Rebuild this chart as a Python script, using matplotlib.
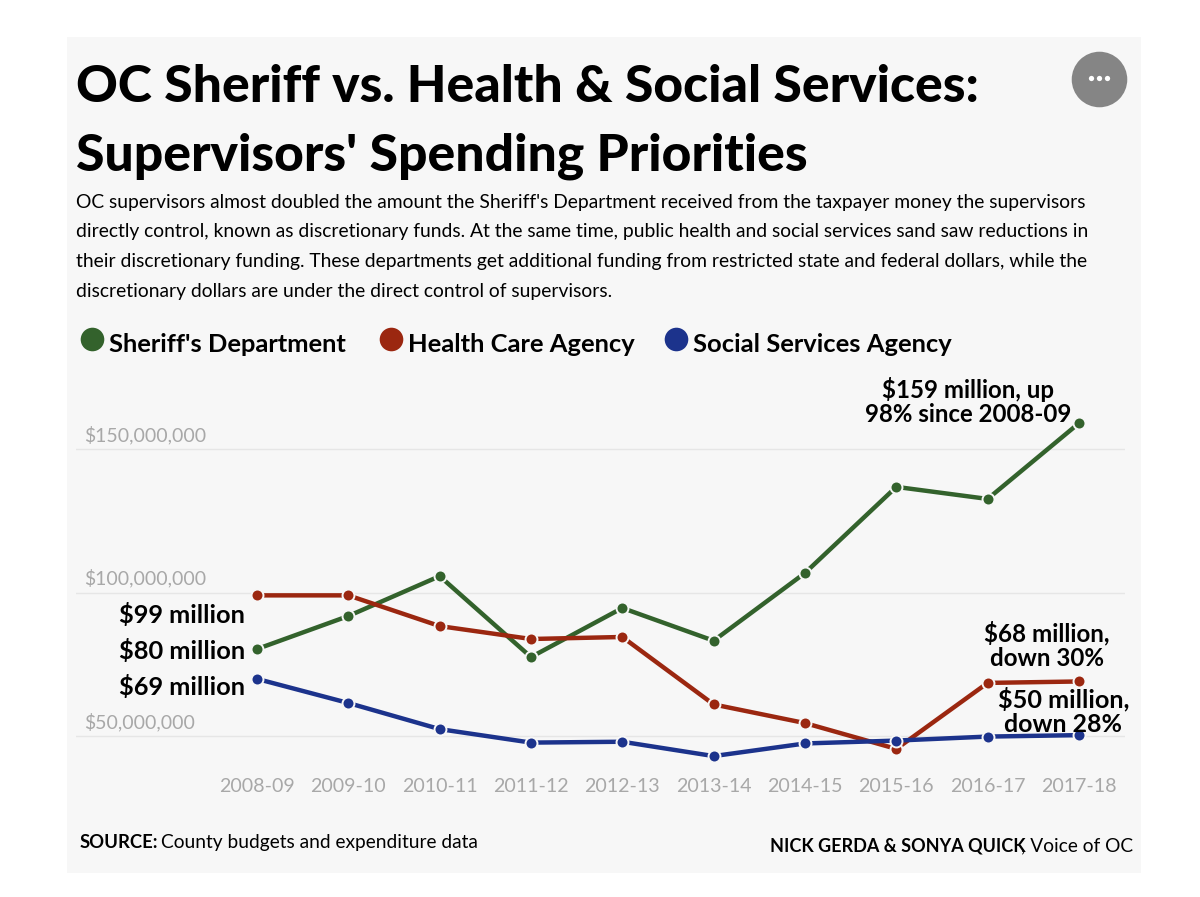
import matplotlib
matplotlib.use("Agg")
import matplotlib.pyplot as plt
from matplotlib.lines import Line2D
from matplotlib.patches import Rectangle
from matplotlib.transforms import ScaledTranslation

W, H = 1200, 897
FONT = "Lato"

years = ["2008-09", "2009-10", "2010-11", "2011-12", "2012-13",
         "2013-14", "2014-15", "2015-16", "2016-17", "2017-18"]
sheriff = [80.3, 91.8, 105.7, 77.5, 94.6, 83.2, 106.8, 136.8, 132.6, 159.0]
health = [99.0, 99.0, 88.3, 83.8, 84.5, 61.0, 54.5, 45.5, 68.5, 69.0]
social = [69.9, 61.5, 52.4, 47.7, 48.0, 43.0, 47.4, 48.4, 49.8, 50.3]
yticks = [50, 100, 150]
ylabels = ["$50,000,000", "$100,000,000", "$150,000,000"]

GREEN = "#33622c"
RED = "#9b2710"
BLUE = "#1c338c"
BG = "#f7f7f7"
GREY = "#a8a8a8"

body_lines = [
    "OC supervisors almost doubled the amount the Sheriff's Department received from the taxpayer money the supervisors",
    "directly control, known as discretionary funds. At the same time, public health and social services sand saw reductions in",
    "their discretionary funding. These departments get additional funding from restricted state and federal dollars, while the",
    "discretionary dollars are under the direct control of supervisors.",
]


def fx(x):
    return x / W


def fy(y):
    return 1 - y / H


def put(x, y, s, size, weight="normal", color="black", ha="left"):
    # x, y in reference pixels, y is the baseline
    return fig.text(fx(x), fy(y), s, fontsize=size, fontweight=weight, color=color,
                    ha=ha, va="baseline", family=FONT, parse_math=False, zorder=5)


fig = plt.figure(figsize=(W / 100, H / 100), dpi=100, facecolor="white")
fig.add_artist(Rectangle((fx(67), fy(873)), fx(1141 - 67), 836 / H, transform=fig.transFigure,
                         facecolor=BG, edgecolor="none", zorder=-1))

# axes box in pixels, 50M sits at y=736 and 150M at y=449
ax = fig.add_axes([fx(76), fy(770), fx(1125 - 76), (770 - 390) / H])
ax.patch.set_visible(False)
ax.set_xlim((76 - 257) / 91.33, (1125 - 257) / 91.33)
ax.set_ylim(50 - 34 / 2.87, 50 + 346 / 2.87)
for s in ax.spines.values():
    s.set_visible(False)

ax.set_yticks(yticks)
ax.set_yticklabels(ylabels, family=FONT, fontsize=14, color=GREY, ha="left", va="baseline", parse_math=False)
ax.tick_params(axis="y", length=0, pad=-5.8)
offset = ScaledTranslation(0, 8 / 100, fig.dpi_scale_trans)
for t in ax.get_yticklabels():
    t.set_transform(t.get_transform() + offset)
ax.grid(axis="y", color="#e6e6e6", linewidth=1)
ax.set_axisbelow(True)

ax.set_xticks(range(len(years)))
ax.set_xticklabels(years, family=FONT, fontsize=14.1, color=GREY)
ax.tick_params(axis="x", length=0, pad=5.5)

for vals, col in [(sheriff, GREEN), (health, RED), (social, BLUE)]:
    ax.plot(range(len(years)), vals, color=col, linewidth=3.2, solid_capstyle="butt",
            marker="o", markersize=8.6, markerfacecolor=col, markeredgecolor=BG,
            markeredgewidth=1.4, clip_on=False)

# title and intro
put(76, 102, "OC Sheriff vs. Health & Social Services:", 37.2, "black")
put(76, 171, "Supervisors' Spending Priorities", 37.2, "black")
for y, line in zip([208, 237, 267, 297], body_lines):
    put(76, y, line, 13.85)

# menu button
fig.add_artist(Line2D([fx(1099)], [fy(79)], marker="o", markersize=40, color="#858585",
                      markeredgecolor="none", transform=fig.transFigure))
for x in [1091, 1099, 1107]:
    fig.add_artist(Line2D([fx(x)], [fy(78)], marker="o", markersize=3.8, color="white",
                          markeredgecolor="none", transform=fig.transFigure))

# legend
for x, col, name, tx in [(92, GREEN, "Sheriff's Department", 109),
                         (391, RED, "Health Care Agency", 408),
                         (676, BLUE, "Social Services Agency", 693)]:
    fig.add_artist(Line2D([fx(x)], [fy(339)], marker="o", markersize=17, color=col,
                          markeredgecolor="none", transform=fig.transFigure))
    put(tx, 352, name, 18.35, "bold")

# callouts
put(245, 623, "$99 million", 18.3, "bold", ha="right")
put(245, 659, "$80 million", 18.3, "bold", ha="right")
put(245, 695, "$69 million", 18.3, "bold", ha="right")
put(968, 398, "$159 million, up", 17.3, "bold", ha="center")
put(968, 422, "98% since 2008-09", 17.3, "bold", ha="center")
put(1047, 641, "$68 million,", 17.4, "bold", ha="center")
put(1047, 666, "down 30%", 17.4, "bold", ha="center")
put(1064, 707, "$50 million,", 18.2, "bold", ha="center")
put(1063, 732, "down 28%", 17.9, "bold", ha="center")

# footer
put(80, 848, "SOURCE:", 13.3, "bold")
put(161, 848, "County budgets and expenditure data", 13.8)
put(1026, 851, "NICK GERDA & SONYA QUICK", 13, "bold", ha="right")
put(1133, 851, ", Voice of OC", 13.8, ha="right")

fig.savefig("out.png", dpi=100, facecolor="white")
